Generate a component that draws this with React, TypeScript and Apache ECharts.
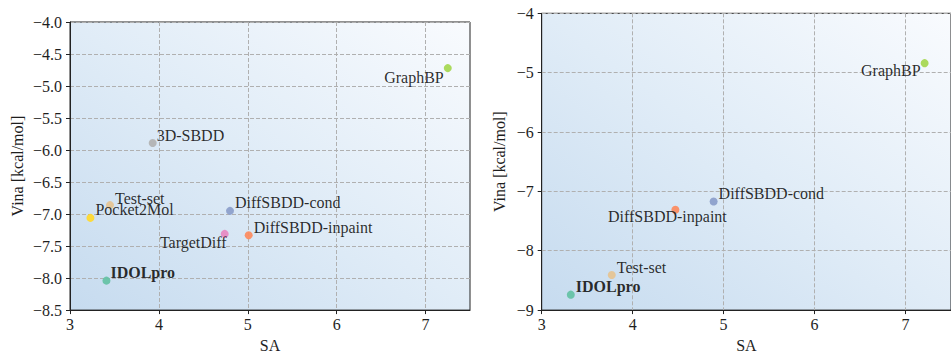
import React, { useEffect, useRef } from 'react';
import * as echarts from 'echarts';

// ---- data ----
const leftMethods = ['IDOLpro', 'DiffSBDD-inpaint', 'DiffSBDD-cond', 'TargetDiff', 'GraphBP', 'Pocket2Mol', 'Test-set', '3D-SBDD'];
const leftSA = [3.41, 5.01, 4.8, 4.74, 7.25, 3.23, 3.45, 3.93];
const leftVina = [-8.04, -7.33, -6.95, -7.31, -4.72, -7.06, -6.86, -5.89];

const rightMethods = ['IDOLpro', 'DiffSBDD-inpaint', 'DiffSBDD-cond', 'GraphBP', 'Test-set'];
const rightSA = [3.32, 4.47, 4.89, 7.21, 3.77];
const rightVina = [-8.74, -7.31, -7.17, -4.84, -8.41];

const xTicks = [3, 4, 5, 6, 7];

// ---- styles ----
const colors: Record<string, string> = {
  'IDOLpro': '#66c2a5',
  'DiffSBDD-inpaint': '#fc8d62',
  'DiffSBDD-cond': '#8da0cb',
  'TargetDiff': '#e78ac3',
  'GraphBP': '#a6d854',
  'Pocket2Mol': '#ffd92f',
  'Test-set': '#e5c494',
  '3D-SBDD': '#b3b3b3',
};

type Place = { dx: number; dy: number; align: string };
const leftPlace: Record<string, Place> = {
  'GraphBP': { dx: -4, dy: 9, align: 'right' },
  '3D-SBDD': { dx: 4, dy: -8, align: 'left' },
  'Test-set': { dx: 5, dy: -7, align: 'left' },
  'Pocket2Mol': { dx: 5, dy: -8, align: 'left' },
  'DiffSBDD-cond': { dx: 5, dy: -8, align: 'left' },
  'DiffSBDD-inpaint': { dx: 5, dy: -8, align: 'left' },
  'TargetDiff': { dx: 2, dy: 9, align: 'right' },
  'IDOLpro': { dx: 4, dy: -8, align: 'left' },
};
const rightPlace: Record<string, Place> = {
  'GraphBP': { dx: -4, dy: 7, align: 'right' },
  'DiffSBDD-cond': { dx: 5, dy: -8, align: 'left' },
  'DiffSBDD-inpaint': { dx: -8, dy: 7, align: 'center' },
  'Test-set': { dx: 5, dy: -8, align: 'left' },
  'IDOLpro': { dx: 5, dy: -8, align: 'left' },
};

const FONT = 'Liberation Serif';
const TEXT = '#1e1e1e';

const minus = (v: number, d: number) => v.toFixed(d).replace('-', '\u2212');

const grad = () =>
  new echarts.graphic.LinearGradient(0, 1, 1, 0, [
    { offset: 0, color: '#c6dbef' },
    { offset: 0.5, color: '#e0ecf7' },
    { offset: 1, color: '#f9fbfe' },
  ]);

function buildData(methods: string[], xs: number[], ys: number[], place: Record<string, Place>) {
  return methods.map((m, i) => {
    const p = place[m];
    return {
      name: m,
      value: [xs[i], ys[i]],
      itemStyle: { color: colors[m], opacity: 0.95 },
      label: {
        show: true,
        formatter: m,
        position: 'inside',
        align: p.align,
        verticalAlign: 'middle',
        offset: [p.dx, p.dy],
        fontSize: 16,
        fontFamily: FONT,
        color: TEXT,
        fontWeight: m === 'IDOLpro' ? 'bold' : 'normal',
      },
    };
  });
}

function xAxis(gridIndex: number) {
  return {
    type: 'value',
    gridIndex,
    min: 3,
    max: 7.5,
    interval: 1,
    name: 'SA',
    nameLocation: 'middle',
    nameGap: 24,
    nameTextStyle: { fontSize: 16, fontFamily: FONT, color: TEXT },
    axisLine: { show: true, lineStyle: { color: '#222', width: 1 } },
    axisTick: { show: true, inside: false, length: 4, lineStyle: { color: '#222' }, customValues: xTicks },
    axisLabel: { fontSize: 16, fontFamily: FONT, color: TEXT, margin: 6, customValues: xTicks, formatter: (v: number) => minus(v, 0) },
    splitLine: { show: true, lineStyle: { color: '#b0b0b0', type: [4, 2], width: 1 } },
  };
}

function yAxis(gridIndex: number, min: number, interval: number, decimals: number, nameGap: number) {
  return {
    type: 'value',
    gridIndex,
    min,
    max: -4,
    interval,
    name: 'Vina [kcal/mol]',
    nameLocation: 'middle',
    nameGap,
    nameTextStyle: { fontSize: 16, fontFamily: FONT, color: TEXT },
    axisLine: { show: true, lineStyle: { color: '#222', width: 1 } },
    axisTick: { show: true, inside: false, length: 4, lineStyle: { color: '#222' } },
    axisLabel: { fontSize: 16, fontFamily: FONT, color: TEXT, margin: 8, formatter: (v: number) => minus(v, decimals) },
    splitLine: { show: true, lineStyle: { color: '#b0b0b0', type: [4, 2], width: 1 } },
  };
}

export default function App() {
  const ref = useRef<HTMLDivElement>(null);
  useEffect(() => {
    document.body.style.margin = '0';
    if (!ref.current) return;
    const chart = echarts.init(ref.current, undefined, { renderer: 'svg' });
    chart.setOption({
      animation: false,
      backgroundColor: '#ffffff',
      textStyle: { fontFamily: FONT },
      grid: [
        { left: 70, top: 22, width: 400, height: 297.5, show: true, backgroundColor: grad(), borderColor: '#222', borderWidth: 1 },
        { left: 541.7, top: 13.3, width: 409.3, height: 305, show: true, backgroundColor: grad(), borderColor: '#222', borderWidth: 1 },
      ],
      xAxis: [xAxis(0), xAxis(1)],
      yAxis: [yAxis(0, -8.5, 0.5, 1, 45), yAxis(1, -9, 1, 0, 34)],
      series: [
        {
          type: 'scatter',
          xAxisIndex: 0,
          yAxisIndex: 0,
          symbolSize: 8,
          data: buildData(leftMethods, leftSA, leftVina, leftPlace),
        },
        {
          type: 'scatter',
          xAxisIndex: 1,
          yAxisIndex: 1,
          symbolSize: 8,
          data: buildData(rightMethods, rightSA, rightVina, rightPlace),
        },
      ],
    });
    return () => chart.dispose();
  }, []);
  return <div ref={ref} style={{ width: 951, height: 358 }} />;
}
